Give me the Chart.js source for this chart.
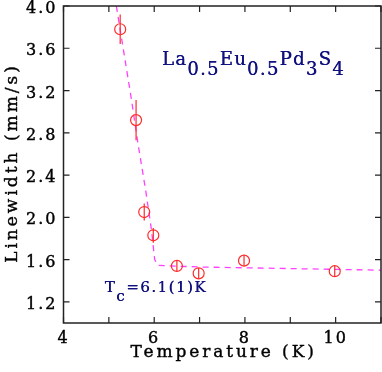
<!DOCTYPE html>
<html><head><meta charset="utf-8">
<script src="https://cdn.jsdelivr.net/npm/chart.js@4/dist/chart.umd.min.js"></script>
<style>html,body{margin:0;padding:0;background:#fff}#wrap{width:382px;height:372px}</style>
</head><body><div id="wrap"><canvas id="c" width="382" height="372"></canvas></div>
<script>
const temps = [5.25, 5.6, 5.78, 5.98, 6.5, 6.98, 7.98, 9.98];
const widths = [3.78, 2.92, 2.05, 1.83, 1.54, 1.47, 1.59, 1.49];
const errs = [0.14, 0.19, 0.08, 0.07, 0.05, 0.05, 0.05, 0.05];
const fitT = [5.165, 5.5, 5.63, 5.81, 5.94, 6.01, 6.08, 7.0, 9.0, 11.0];
const fitL = [4.0, 3.11, 2.73, 2.26, 1.88, 1.60, 1.545, 1.53, 1.515, 1.50];
const xTicks = [4, 5, 6, 7, 8, 9, 10, 11];
const yTicks = [1.2, 1.6, 2.0, 2.4, 2.8, 3.2, 3.6, 4.0];
const xTitle = 'Temperature (K)';
const yTitle = 'Linewidth (mm/s)';
const titleParts = [["La",0],["0.5",1],["Eu",0],["0.5",1],["Pd",0],["3",1],["S",0],["4",1]];
const tcParts = [["T",0],["c",1],["=6.1(1)K",0]];

const FONT = "'DejaVu Serif', serif";
const NAVY = '#10107e';

const spacing = {
  id:'spacing',
  beforeLayout(c){ c.ctx.letterSpacing='2px'; },
  beforeDraw(c){ c.ctx.letterSpacing='2px'; }
};

const deco = {
  id:'deco',
  afterDatasetsDraw(c){
    const ctx=c.ctx, xs=c.scales.x, ys=c.scales.y, a=c.chartArea;
    ctx.save();
    ctx.strokeStyle='#ff2a2a'; ctx.lineWidth=1.2;
    ctx.beginPath();
    ctx.rect(a.left,a.top,a.right-a.left,a.bottom-a.top); ctx.clip();
    temps.forEach((t,i)=>{
      const px=xs.getPixelForValue(t);
      ctx.beginPath();
      ctx.moveTo(px, ys.getPixelForValue(widths[i]+errs[i]));
      ctx.lineTo(px, ys.getPixelForValue(widths[i]-errs[i]));
      ctx.stroke();
    });
    ctx.restore();
    ctx.save();
    ctx.strokeStyle='#222'; ctx.lineWidth=1.5;
    ctx.strokeRect(a.left,a.top,a.right-a.left,a.bottom-a.top);
    ctx.lineWidth=1.2;
    const tl=6;
    xTicks.forEach(v=>{
      const px=xs.getPixelForValue(v);
      ctx.beginPath();
      ctx.moveTo(px,a.bottom); ctx.lineTo(px,a.bottom-tl);
      ctx.moveTo(px,a.top); ctx.lineTo(px,a.top+tl);
      ctx.stroke();
    });
    yTicks.forEach(v=>{
      const py=ys.getPixelForValue(v);
      ctx.beginPath();
      ctx.moveTo(a.left,py); ctx.lineTo(a.left+tl,py);
      ctx.moveTo(a.right,py); ctx.lineTo(a.right-tl,py);
      ctx.stroke();
    });
    // axis titles
    ctx.fillStyle='#000'; ctx.strokeStyle='#000'; ctx.lineWidth=0.4;
    ctx.font='17px '+FONT; ctx.letterSpacing='2.9px';
    ctx.textAlign='center'; ctx.textBaseline='middle';
    ctx.fillText(xTitle, (a.left+a.right)/2 + 1.4, 352.5);
    ctx.strokeText(xTitle, (a.left+a.right)/2 + 1.4, 352.5);
    ctx.save();
    ctx.translate(12.5,(a.top+a.bottom)/2);
    ctx.rotate(-Math.PI/2);
    ctx.letterSpacing='3.0px';
    ctx.fillText(yTitle, 1.5, 0);
    ctx.strokeText(yTitle, 1.5, 0);
    ctx.restore();
    // annotations
    ctx.fillStyle=NAVY; ctx.textBaseline='alphabetic'; ctx.textAlign='left';
    const drawParts=(parts,x,y,size,sub,ls)=>{
      ctx.letterSpacing=ls;
      ctx.font=size+'px '+FONT;
      parts.forEach(([s,isSub])=>{
        ctx.fillText(s,x,y+(isSub?sub:0));
        ctx.fillText(s,x+0.3,y+(isSub?sub:0));
        x+=ctx.measureText(s).width;
      });
    };
    drawParts(titleParts, xs.getPixelForValue(6.17), ys.getPixelForValue(3.44), 18, 10, '1.3px');
    drawParts(tcParts, xs.getPixelForValue(4.91), ys.getPixelForValue(1.297), 15, 9, '1.5px');
    ctx.restore();
  }
};

new Chart(document.getElementById('c'), {
  type:'scatter',
  data:{datasets:[
    {data: temps.map((t,i)=>({x:t,y:widths[i]})), pointStyle:'circle', pointRadius:5.5,
     pointBorderColor:'#ff2a2a', pointBackgroundColor:'rgba(0,0,0,0)', pointBorderWidth:1.2, showLine:false, order:0},
    {data: fitT.map((t,i)=>({x:t,y:fitL[i]})), showLine:true, borderColor:'#ff40ff', borderWidth:1.3,
     borderDash:[6,5], pointRadius:0, tension:0, order:1}
  ]},
  options:{
    responsive:false, animation:false, devicePixelRatio:1,
    layout:{autoPadding:false, padding:{top:6,right:1,left:0,bottom:0}},
    plugins:{legend:{display:false}, tooltip:{enabled:false}},
    scales:{
      x:{type:'linear', min:4, max:11,
        afterBuildTicks(s){ s.ticks = xTicks.map(v=>({value:v})); },
        afterFit(s){ s.height=49; s.paddingLeft=0; s.paddingRight=0; },
        grid:{display:false, drawTicks:false}, border:{display:false},
        ticks:{ padding:6, color:'#000', font:{family:FONT,size:16},
          textStrokeColor:'#000', textStrokeWidth:0.4,
          maxRotation:0, autoSkip:false,
          callback:(v)=> (v%2===0 && v<11) ? String(v) : '' },
        title:{display:false}
      },
      y:{type:'linear', min:1.0, max:4.0,
        afterBuildTicks(s){ s.ticks = yTicks.map(v=>({value:v})); },
        afterFit(s){ s.width=63.5; s.paddingTop=0; s.paddingBottom=0; },
        grid:{display:false, drawTicks:false}, border:{display:false},
        ticks:{ padding:6, labelOffset:3, color:'#000', font:{family:FONT,size:16}, autoSkip:false,
          textStrokeColor:'#000', textStrokeWidth:0.4,
          callback:(v)=> Number(v).toFixed(1) },
        title:{display:false}
      }
    }
  },
  plugins:[spacing, deco]
});
</script></body></html>
